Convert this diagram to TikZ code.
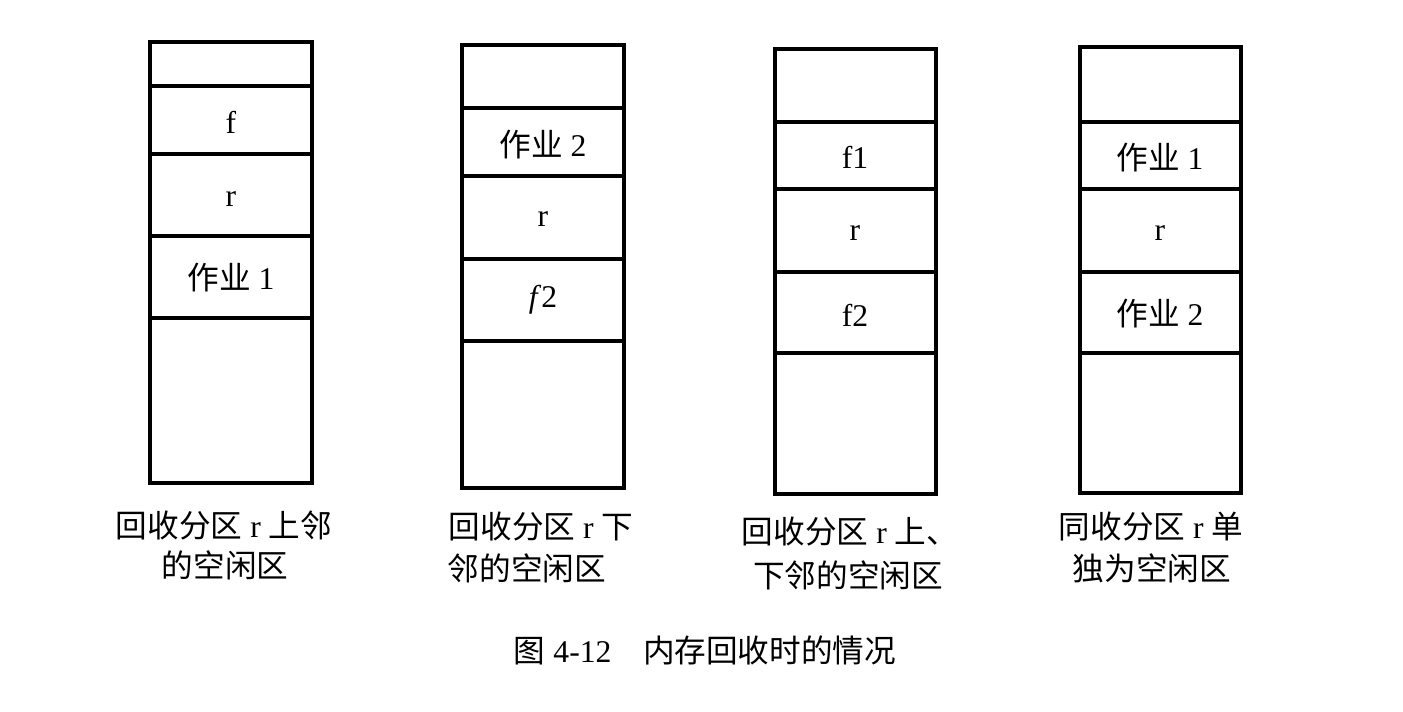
\documentclass[tikz,border=0pt]{standalone}
\usepackage{fontspec}
\setmainfont{Liberation Serif}
\newfontfamily\cjk{Noto Sans CJK SC}
\tikzstyle{mem}=[line width=2.2pt]
\tikzstyle{txt}=[font=\fontsize{18}{21}\selectfont]
\tikzstyle{lbl}=[font=\fontsize{18}{21}\selectfont]
\begin{document}
\begin{tikzpicture}
\useasboundingbox (0,0) rectangle (28.06,-14.22);
% column 1
\draw[mem] (3.0,-0.84) rectangle (6.24,-9.66);
\foreach \y in {-1.72,-3.08,-4.72,-6.36}
  \draw[mem] (3.0,\y) -- (6.24,\y);
\node[txt] (fa) at (4.62,-2.44) {f};
\node[txt] (ra) at (4.62,-3.98) {r};
\node[txt] (joba) at (4.62,-5.56) {{\cjk 作业} 1};
\node[lbl] (capa1) at (4.48,-10.5) {{\cjk 回收分区} r {\cjk 上邻}};
\node[lbl] (capa2) at (4.5,-11.3) {\cjk 的空闲区};

% column 2
\draw[mem] (9.24,-0.9) rectangle (12.48,-9.76);
\foreach \y in {-2.16,-3.52,-5.18,-6.82}
  \draw[mem] (9.24,\y) -- (12.48,\y);
\node[txt] (jobb) at (10.86,-2.9) {{\cjk 作业} 2};
\node[txt] (rb) at (10.86,-4.38) {r};
\node[txt] (fb) at (10.86,-6.0) {\textit{f}2};
\node[lbl] (capb1) at (10.82,-10.54) {{\cjk 回收分区} r {\cjk 下}};
\node[lbl] (capb2) at (10.54,-11.36) {\cjk 邻的空闲区};

% column 3
\draw[mem] (15.5,-0.98) rectangle (18.72,-9.88);
\foreach \y in {-2.44,-3.78,-5.44,-7.06}
  \draw[mem] (15.5,\y) -- (18.72,\y);
\node[txt] (fc1) at (17.1,-3.14) {f1};
\node[txt] (rc) at (17.1,-4.66) {r};
\node[txt] (fc2) at (17.1,-6.3) {f2};
\node[lbl] (capc1) at (17.0,-10.64) {{\cjk 回收分区} r {\cjk 上、}};
\node[lbl] (capc2) at (16.96,-11.5) {\cjk 下邻的空闲区};

% column 4
\draw[mem] (21.6,-0.94) rectangle (24.82,-9.86);
\foreach \y in {-2.44,-3.78,-5.44,-7.06}
  \draw[mem] (21.6,\y) -- (24.82,\y);
\node[txt] (jobd1) at (23.2,-3.16) {{\cjk 作业} 1};
\node[txt] (rd) at (23.2,-4.66) {r};
\node[txt] (jobd2) at (23.2,-6.28) {{\cjk 作业} 2};
\node[lbl] (capd1) at (23.02,-10.54) {{\cjk 同收分区} r {\cjk 单}};
\node[lbl] (capd2) at (23.04,-11.36) {\cjk 独为空闲区};

\node[lbl] (title) at (14.1,-13.0) {{\cjk 图} 4-12\hspace{1em}{\cjk 内存回收时的情况}};
\end{tikzpicture}
\end{document}
